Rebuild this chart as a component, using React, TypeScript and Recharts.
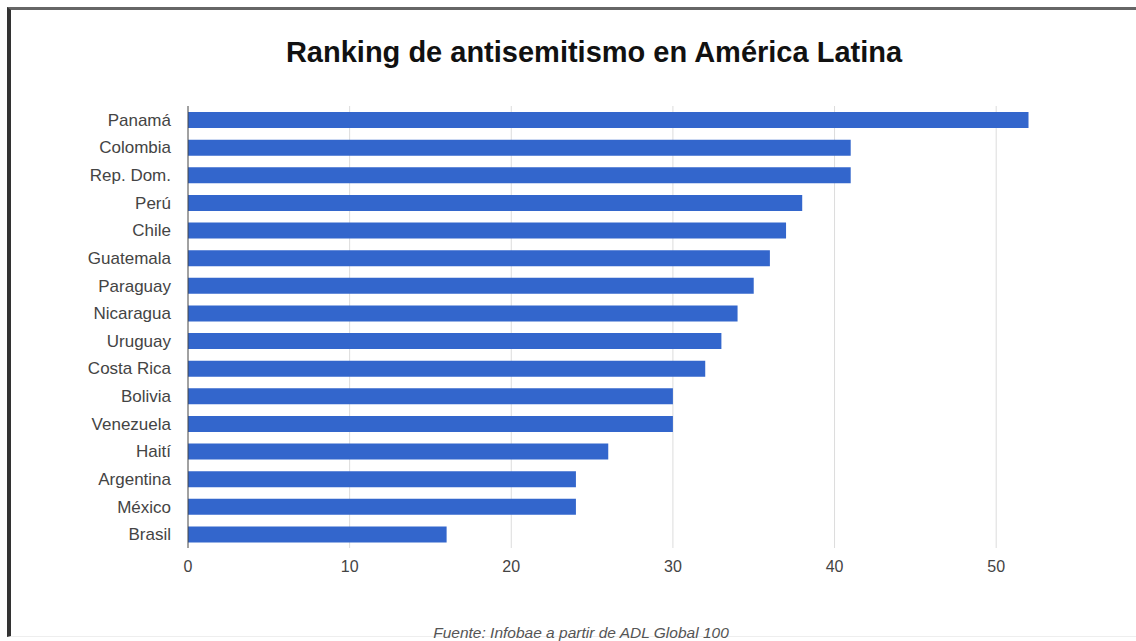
import { BarChart, Bar, XAxis, YAxis, CartesianGrid } from "recharts";

const COUNTRIES = [
  "Panamá", "Colombia", "Rep. Dom.", "Perú", "Chile", "Guatemala", "Paraguay", "Nicaragua",
  "Uruguay", "Costa Rica", "Bolivia", "Venezuela", "Haití", "Argentina", "México", "Brasil",
];
const SCORES = [52, 41, 41, 38, 37, 36, 35, 34, 33, 32, 30, 30, 26, 24, 24, 16];
const X_TICKS = [0, 10, 20, 30, 40, 50];
const X_MAX = 55;

const TITLE = "Ranking de antisemitismo en América Latina";
const SOURCE = "Fuente: Infobae a partir de ADL Global 100";

const FONT = "Arial, 'Liberation Sans', sans-serif";

const data = COUNTRIES.map((country, i) => ({ country, score: SCORES[i] }));

export default function App() {
  return (
    <div style={{ position: "absolute", left: 0, top: 0, width: 1136, height: 641, overflow: "hidden", background: "#fff", fontFamily: FONT }}>
      {/* scanned frame */}
      <div style={{ position: "absolute", left: 7, top: 7, width: 1140, height: 630, borderTop: "3px solid #666", borderLeft: "4px solid #333", borderBottom: "1px solid #eee", boxSizing: "border-box" }} />
      <div style={{ position: "absolute", left: 0, top: 37, width: 1188, textAlign: "center", fontSize: 29, fontWeight: "bold", color: "#111", lineHeight: "30px" }}>
        {TITLE}
      </div>
      <div style={{ position: "absolute", left: 0, top: 624, width: 1162, textAlign: "center", fontSize: 15.5, fontStyle: "italic", color: "#555", lineHeight: "18px" }}>
        {SOURCE}
      </div>
      <div style={{ position: "absolute", left: 0, top: 0 }}>
        <BarChart
          width={1136}
          height={641}
          data={data}
          layout="vertical"
          margin={{ top: 106, right: 59, bottom: 63, left: 0 }}
        >
          <CartesianGrid
            horizontal={false}
            stroke="#dcdcdc"
            verticalCoordinatesGenerator={({ offset }: any) =>
              X_TICKS.filter((t) => t > 0).map((t) => offset.left + (t / X_MAX) * offset.width)
            }
          />
          <XAxis
            type="number"
            domain={[0, X_MAX]}
            ticks={X_TICKS}
            height={30}
            axisLine={false}
            tickLine={false}
            tickSize={6}
            tickMargin={7}
            tick={{ fontSize: 16, fill: "#444", fontFamily: FONT }}
          />
          <YAxis
            type="category"
            dataKey="country"
            width={188}
            axisLine={{ stroke: "#444" }}
            tickLine={false}
            tickSize={8}
            tickMargin={9}
            interval={0}
            tick={{ fontSize: 17, fill: "#444", fontFamily: FONT }}
          />
          <Bar dataKey="score" fill="#3366cc" barSize={16} isAnimationActive={false} />
        </BarChart>
      </div>
    </div>
  );
}
